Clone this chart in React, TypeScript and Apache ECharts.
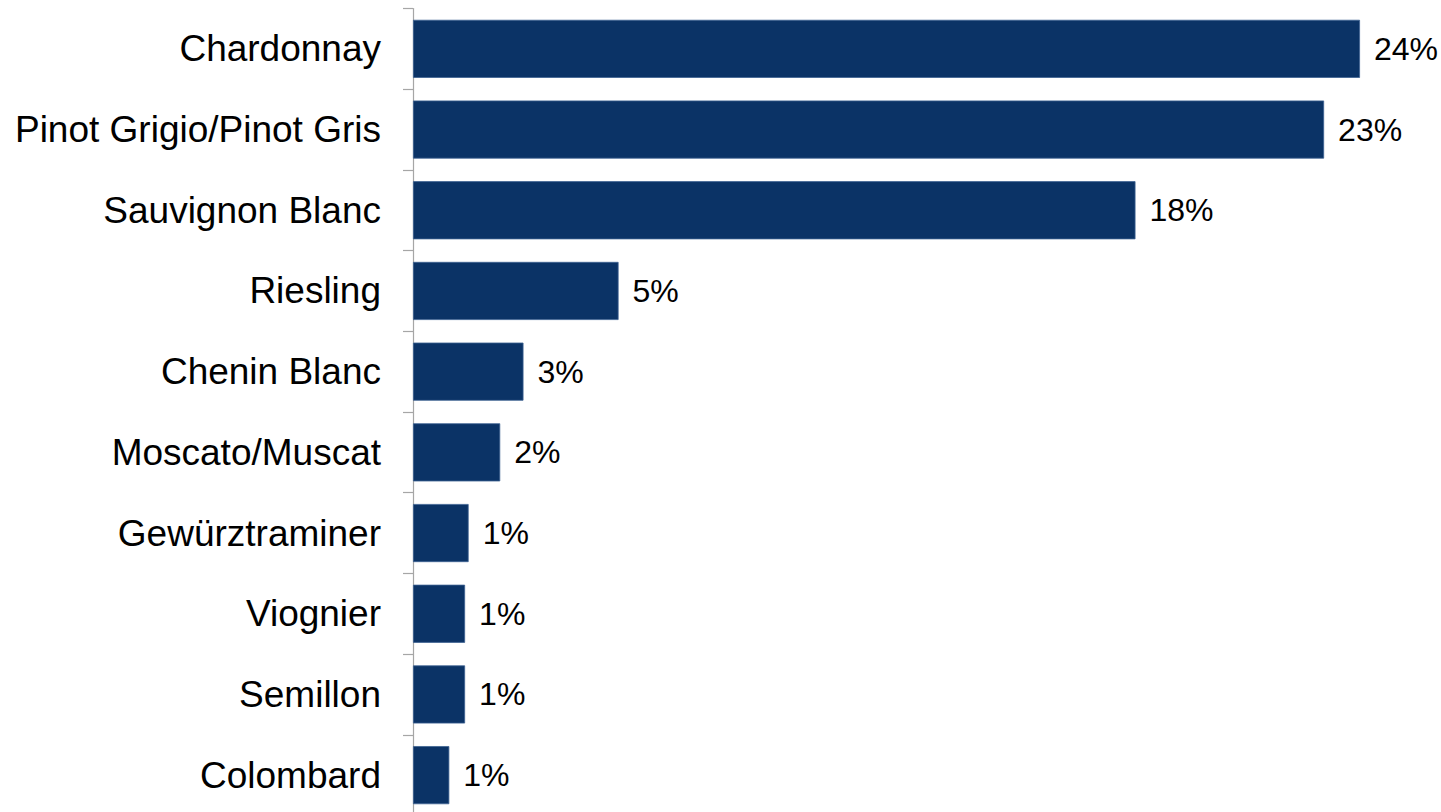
import React, { useEffect, useRef } from "react";
import * as echarts from "echarts";

const categories = [
  "Chardonnay",
  "Pinot Grigio/Pinot Gris",
  "Sauvignon Blanc",
  "Riesling",
  "Chenin Blanc",
  "Moscato/Muscat",
  "Gewürztraminer",
  "Viognier",
  "Semillon",
  "Colombard",
];
const shares = [24.0, 23.09, 18.31, 5.21, 2.8, 2.21, 1.41, 1.32, 1.32, 0.92];

export default function App() {
  const ref = useRef<HTMLDivElement>(null);
  useEffect(() => {
    if (!ref.current) return;
    const chart = echarts.init(ref.current, null, { renderer: "svg" });
    chart.setOption({
      animation: false,
      backgroundColor: "#ffffff",
      grid: {
        left: 413,
        top: 8.5,
        width: 947,
        height: 807,
        containLabel: false,
        outerBoundsMode: "none",
      },
      xAxis: {
        type: "value",
        min: 0,
        max: 24,
        show: false,
        splitLine: { show: false },
      },
      yAxis: {
        type: "category",
        inverse: true,
        data: categories,
        axisLine: { show: true, lineStyle: { color: "#A6A6A6", width: 1.2 } },
        axisTick: { show: true, length: 10, lineStyle: { color: "#A6A6A6", width: 1.2 } },
        axisLabel: {
          margin: 32,
          fontSize: 37,
          color: "#000000",
          fontFamily: "Liberation Sans, Arial, sans-serif",
        },
      },
      series: [
        {
          type: "bar",
          data: shares,
          barCategoryGap: "28%",
          itemStyle: { color: "#0B3366", borderColor: "#3D6292", borderWidth: 0.8 },
          label: {
            show: true,
            position: "right",
            distance: 14,
            fontSize: 32,
            color: "#000000",
            fontFamily: "Liberation Sans, Arial, sans-serif",
            formatter: (p: any) => Math.round(p.value) + "%",
          },
        },
      ],
    });
    return () => chart.dispose();
  }, []);
  return (
    <div
      ref={ref}
      style={{ position: "fixed", left: 0, top: 0, width: 1441, height: 812, background: "#fff" }}
    />
  );
}
